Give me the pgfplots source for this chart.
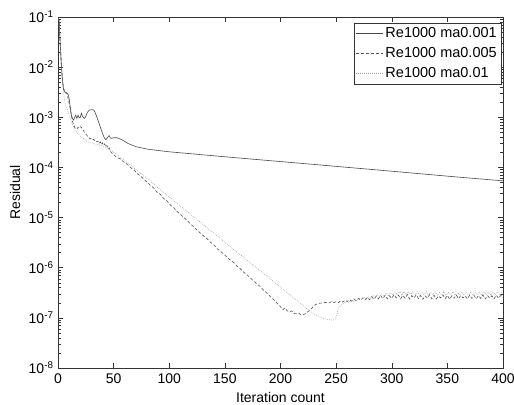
\documentclass[border=0pt]{standalone}
\usepackage{pgfplots}
\pgfplotsset{compat=1.18}
\usepackage{fontspec}
\setmainfont{Liberation Sans}
\begin{document}
\begin{tikzpicture}
\begin{axis}[
  scale only axis,
  width=445bp, height=351bp,
  xmin=0, xmax=400, ymin=1e-8, ymax=1e-1,
  ymode=log,
  xtick={0,50,...,400},
  ytick={1e-8,1e-7,1e-6,1e-5,1e-4,1e-3,1e-2,1e-1},
  yticklabels={10\textsuperscript{-8},10\textsuperscript{-7},10\textsuperscript{-6},10\textsuperscript{-5},10\textsuperscript{-4},10\textsuperscript{-3},10\textsuperscript{-2},10\textsuperscript{-1}},
  /pgf/number format/assume math mode=true,
  xticklabel={\pgfmathprintnumber{\tick}},
  tick label style={font=\fontsize{14bp}{16bp}\selectfont},
  xticklabel style={yshift=-2bp},
  yticklabel style={xshift=-1bp},
  label style={font=\fontsize{14bp}{16bp}\selectfont},
  xlabel={Iteration count},
  ylabel={Residual},
  xlabel style={at={(axis description cs:0.5,-0.0826)}, anchor=center},
  ylabel style={at={(axis description cs:-0.0966,0.5)}, anchor=center},
  axis line style={black!80, line width=0.5bp},
  every tick/.style={black!80, line width=0.5bp},
  major tick length=5bp, minor tick length=3bp,
  tick align=inside,
  legend style={at={(rel axis cs:0.9955,0.9835)}, anchor=north east,
    font=\fontsize{14.5bp}{16bp}\selectfont, draw=black!80, line width=0.5bp,
    inner xsep=2bp, inner ysep=2.5bp, nodes={inner sep=2bp}, row sep=4.5bp},
  legend cell align=left,
  legend image code/.code={\draw[#1] (0bp,0bp) -- (27bp,0bp);},
]
% ma0.001
\addplot[black!72, line width=0.6bp] coordinates {
(0,0.095) (1,0.085) (2,0.03) (3,0.011) (4,0.0055) (5,0.0036) (6,0.0032) (7,0.0031) (8,0.0030) (9,0.0029) (10,0.0024)
(11,0.0016) (12,0.0011) (13,0.00095) (14,0.00088) (15,0.0010) (16,0.0011) (17,0.00095) (18,0.0011) (19,0.00098) (20,0.0010)
(21,0.0012) (22,0.00105) (23,0.00098) (24,0.00095) (25,0.00105) (26,0.0012) (27,0.0013) (28,0.00138) (30,0.00142) (32,0.0014)
(33,0.0013) (35,0.0010) (37,0.00075) (39,0.00055) (41,0.00042) (42,0.00038) (43,0.00036) (44,0.00038) (45,0.00041) (46,0.00043)
(47,0.00039) (48,0.00038) (50,0.00039) (53,0.00039) (57,0.00036) (63,0.00030) (70,0.00026) (80,0.000232) (90,0.000218)
(100,0.000205) (150,0.000163) (200,0.000131) (250,0.000105) (300,0.000084) (350,0.000067) (400,0.000054)
};
\addlegendentry{Re1000 ma0.001}
% ma0.005
\addplot[black!68, line width=0.6bp, dash pattern=on 3bp off 2bp] coordinates {
(0,0.095) (1,0.085) (2,0.028) (3,0.0112) (4,0.0056) (5,0.0038) (6,0.0033) (7,0.0032) (8,0.0030) (9,0.0024) (10,0.0019)
(11,0.0015) (12,0.00112) (13,0.00083) (14,0.00072) (15,0.00063) (16,0.00059) (17,0.00058) (18,0.00063) (19,0.0006) (20,0.00065)
(21,0.00063) (22,0.00056) (23,0.00054) (24,0.00049) (25,0.00046) (26,0.00044) (27,0.0004) (28,0.00039) (29,0.00037) (30,0.00038)
(31,0.000355) (32,0.000363) (33,0.00034) (34,0.000347) (35,0.000324) (36,0.000331) (37,0.0003) (38,0.000324) (39,0.000288) (40,0.000309)
(41,0.000275) (42,0.000295) (43,0.000257) (44,0.000275) (45,0.000234) (46,0.000245) (47,0.000209) (48,0.0002) (49,0.000186) (50,0.000178)
(53,0.000158) (56,0.000148) (59,0.000129) (62,0.000117) (65,0.0001) (68,9.1e-5) (71,7.6e-5) (74,6.8e-5) (77,5.9e-5) (80,5.1e-5)
(83,4.4e-5) (86,3.9e-5) (89,3.2e-5) (92,2.9e-5) (95,2.4e-5) (98,2.14e-5) (101,1.78e-5) (104,1.58e-5) (107,1.32e-5) (110,1.17e-5)
(113,1.0e-5) (116,8.9e-6) (119,7.4e-6) (122,6.6e-6) (125,5.6e-6) (128,4.9e-6) (131,4.27e-6) (134,3.8e-6) (137,3.24e-6) (140,2.88e-6)
(143,2.4e-6) (146,2.14e-6) (149,1.86e-6) (152,1.62e-6) (155,1.41e-6) (158,1.26e-6) (161,1.07e-6) (164,9.5e-7) (167,8.1e-7) (170,7.2e-7)
(173,6.2e-7) (176,5.4e-7) (179,4.7e-7) (182,4.2e-7) (185,3.5e-7) (188,3.1e-7) (191,2.63e-7) (194,2.3e-7) (197,1.95e-7) (200,1.66e-7)
(202,1.45e-7) (204,1.58e-7) (206,1.38e-7) (208,1.32e-7) (210,1.38e-7) (212,1.23e-7) (214,1.2e-7) (216,1.26e-7) (218,1.17e-7) (220,1.15e-7)
(222,1.2e-7) (224,1.29e-7) (226,1.41e-7) (228,1.55e-7) (230,1.74e-7) (232,1.86e-7) (235,1.95e-7) (238,2.0e-7) (241,2.04e-7)
(244,2.0e-7) (246,2.12e-7) (248,2.02e-7) (250,2.1e-7) (252,2.0e-7) (254,2.18e-7) (256,2.06e-7) (258,2.25e-7) (260,2.12e-7) (262,2.3e-7)
(264,2.15e-7) (266,2.38e-7) (268,2.2e-7) (270,2.45e-7) (272,2.25e-7) (274,2.5e-7) (276,2.28e-7) (278,2.55e-7) (280,2.3e-7) (282,2.65e-7)
(284,2.35e-7) (286,2.7e-7) (288,2.4e-7) (290,2.78e-7) (292,2.42e-7) (294,2.82e-7) (296,2.4e-7) (298,2.75e-7) (300,2.45e-7) (302,2.9e-7)
(304,2.5e-7) (306,2.85e-7) (308,2.4e-7) (310,2.8e-7) (312,2.45e-7) (314,2.92e-7) (316,2.38e-7) (318,2.78e-7) (320,2.5e-7) (322,2.88e-7)
(324,2.42e-7) (326,2.8e-7) (328,2.35e-7) (330,2.75e-7) (332,2.48e-7) (334,2.9e-7) (336,2.4e-7) (338,2.82e-7) (340,2.38e-7) (342,2.72e-7)
(344,2.5e-7) (346,2.88e-7) (348,2.42e-7) (350,2.8e-7) (352,2.36e-7) (354,2.76e-7) (356,2.45e-7) (358,2.86e-7) (360,2.4e-7) (362,2.8e-7)
(364,2.5e-7) (366,2.74e-7) (368,2.38e-7) (370,2.85e-7) (372,2.45e-7) (374,2.8e-7) (376,2.4e-7) (378,2.78e-7) (380,2.45e-7) (382,2.86e-7)
(384,2.38e-7) (386,2.8e-7) (388,2.48e-7) (390,2.76e-7) (392,2.4e-7) (394,2.84e-7) (396,2.45e-7) (398,2.8e-7) (400,2.55e-7)
};
\addlegendentry{Re1000 ma0.005}
% ma0.01
\addplot[black!40, line width=0.6bp, dash pattern=on 0.7bp off 1.3bp] coordinates {
(0,0.095) (1,0.085) (2,0.027) (3,0.0095) (4,0.0048) (5,0.0030) (6,0.0021) (7,0.0017) (8,0.0015) (9,0.0013) (10,0.0011)
(11,0.00095) (12,0.00082) (13,0.00072) (14,0.00064) (15,0.00058) (16,0.00053) (18,0.00047) (20,0.00042) (22,0.00039) (24,0.00036)
(26,0.00033) (28,0.00031) (30,0.00031) (33,0.000295) (36,0.000285) (40,0.00027) (45,0.00024) (50,0.0002) (55,0.000166) (60,0.000135)
(65,0.000112) (70,9.1e-5) (75,7.4e-5) (80,6.0e-5) (85,4.9e-5) (90,3.9e-5) (95,3.2e-5) (100,2.57e-5) (105,2.09e-5) (110,1.70e-5)
(115,1.38e-5) (120,1.12e-5) (125,9.1e-6) (130,7.4e-6) (135,6.0e-6) (140,4.9e-6) (145,4.0e-6) (150,3.2e-6) (155,2.6e-6) (160,2.1e-6)
(165,1.74e-6) (170,1.41e-6) (175,1.15e-6) (180,9.3e-7) (185,7.6e-7) (190,6.2e-7) (195,5.0e-7) (200,4.1e-7) (205,3.3e-7) (210,2.7e-7)
(215,2.2e-7) (220,1.8e-7) (225,1.45e-7) (230,1.2e-7) (235,1.05e-7) (240,9.6e-8) (244,9.2e-8) (247,9.0e-8) (249,9.3e-8) (251,1.2e-7)
(252,1.55e-7) (254,1.75e-7) (257,1.95e-7) (259,2.12e-7) (261,2.02e-7) (263,2.2e-7) (265,2.1e-7) (267,2.3e-7) (269,2.2e-7) (271,2.45e-7)
(273,2.32e-7) (275,2.55e-7) (277,2.4e-7) (279,2.65e-7) (281,2.5e-7) (283,2.8e-7) (285,2.58e-7) (287,2.9e-7) (289,2.65e-7) (291,3.0e-7)
(293,2.7e-7) (295,3.1e-7) (297,2.8e-7) (299,3.15e-7) (301,2.85e-7) (303,3.25e-7) (305,2.9e-7) (307,3.3e-7) (309,2.85e-7) (311,3.35e-7)
(313,2.9e-7) (315,3.4e-7) (317,2.95e-7) (319,3.35e-7) (321,2.9e-7) (323,3.3e-7) (325,2.85e-7) (327,3.25e-7) (329,2.9e-7) (331,3.3e-7)
(333,2.85e-7) (335,3.2e-7) (337,2.9e-7) (339,3.3e-7) (341,2.8e-7) (343,3.2e-7) (345,2.88e-7) (347,3.28e-7) (349,2.85e-7) (351,3.22e-7)
(353,2.9e-7) (355,3.3e-7) (357,2.82e-7) (359,3.2e-7) (361,2.9e-7) (363,3.25e-7) (365,2.85e-7) (367,3.2e-7) (369,2.9e-7) (371,3.3e-7)
(373,2.85e-7) (375,3.22e-7) (377,2.88e-7) (379,3.3e-7) (381,2.85e-7) (383,3.2e-7) (385,2.9e-7) (387,3.28e-7) (389,2.85e-7) (391,3.25e-7)
(393,2.9e-7) (395,3.3e-7) (397,2.85e-7) (399,3.2e-7) (400,3.0e-7)
};
\addlegendentry{Re1000 ma0.01}
\end{axis}
\pgfresetboundingbox
\path (-58bp,-37bp) rectangle (456bp,368bp);
\end{tikzpicture}
\end{document}
